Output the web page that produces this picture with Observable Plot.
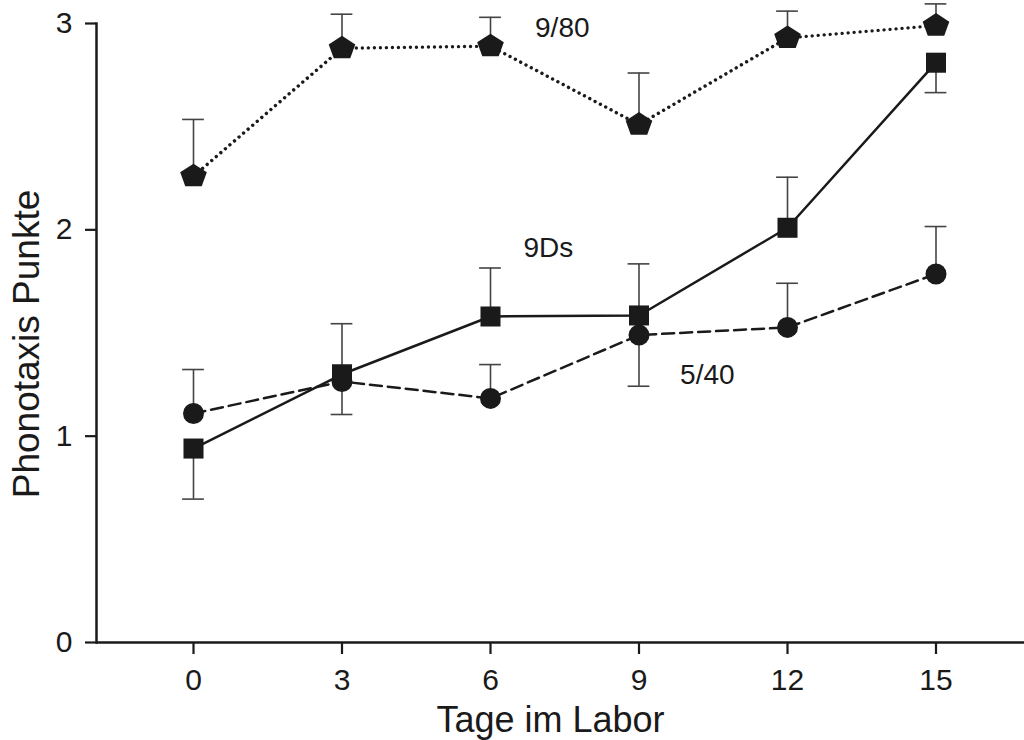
<!DOCTYPE html>
<html>
<head>
<meta charset="utf-8">
<script src="https://cdn.jsdelivr.net/npm/d3@7"></script>
<script src="https://cdn.jsdelivr.net/npm/@observablehq/plot@0.6"></script>
<style>
  html, body { margin: 0; padding: 0; background: #fff; }
  g[aria-label="x-axis tick label"] text, g[aria-label="y-axis tick label"] text { font-size: 30px; }
  g[aria-label="x-axis tick label"], g[aria-label="y-axis tick label"] { font-size: 30px; }
</style>
</head>
<body>
<div id="chart"></div>
<script>
// ---- data ----
const days = [0, 3, 6, 9, 12, 15];
const xTicks = [0, 3, 6, 9, 12, 15];
const yTicks = [0, 1, 2, 3];

const s980 = [2.26, 2.88, 2.89, 2.51, 2.93, 2.99];
const s980Err = [2.535, 3.045, 3.03, 2.76, 3.06, 3.095];

const s9Ds = [0.94, 1.30, 1.58, 1.585, 2.01, 2.81];
const s9DsErr = [0.695, 1.545, 1.815, 1.835, 2.255, 2.665];

const s540 = [1.11, 1.265, 1.183, 1.49, 1.527, 1.786];
const s540Err = [1.323, 1.105, 1.347, 1.242, 1.741, 2.016];

const seriesLabels = ["9/80", "9Ds", "5/40"];
const labelX = [7.45, 7.17, 10.38];
const labelY = [2.976, 1.91, 1.294];

// ---- build tables ----
const mk = (vals, errs) => days.map((d, i) => ({x: d, y: vals[i], e: errs[i]}));
const d980 = mk(s980, s980Err);
const d9Ds = mk(s9Ds, s9DsErr);
const d540 = mk(s540, s540Err);
const labels = seriesLabels.map((t, i) => ({t, x: labelX[i], y: labelY[i]}));

const pentagon = {
  draw(ctx, size) {
    const r = Math.sqrt(size / Math.PI);
    for (let i = 0; i < 5; i++) {
      const a = -Math.PI / 2 + i * 2 * Math.PI / 5;
      const px = r * 1.12 * Math.cos(a), py = r * Math.sin(a);
      if (i === 0) ctx.moveTo(px, py); else ctx.lineTo(px, py);
    }
    ctx.closePath();
  }
};

const ink = "#1a1a1a";
const errColor = "#444";
const capHalf = 0.22;

function errMarks(data) {
  return [
    Plot.ruleX(data, {x: "x", y1: "y", y2: "e", stroke: errColor, strokeWidth: 1.6}),
    Plot.ruleY(data, {y: "e", x1: d => d.x - capHalf, x2: d => d.x + capHalf, stroke: errColor, strokeWidth: 1.6})
  ];
}

const chart = Plot.plot({
  width: 1024,
  height: 740,
  marginLeft: 96,
  marginRight: 0,
  marginTop: 23,
  marginBottom: 98,
  style: {fontFamily: "'Liberation Sans', Arial, sans-serif", background: "#fff", color: ink},
  x: {domain: [0, 15], range: [193, 935.5]},
  y: {domain: [0, 3], range: [642, 23]},
  marks: [
    // error bars
    ...errMarks(d980),
    ...errMarks(d9Ds),
    ...errMarks(d540),
    // lines
    Plot.line(d980, {x: "x", y: "y", stroke: ink, strokeWidth: 3.4, strokeDasharray: "0.01,6", strokeLinecap: "round"}),
    Plot.line(d9Ds, {x: "x", y: "y", stroke: ink, strokeWidth: 2.5}),
    Plot.line(d540, {x: "x", y: "y", stroke: ink, strokeWidth: 2.5, strokeDasharray: "12,6"}),
    // markers
    Plot.dot(d980, {x: "x", y: "y", symbol: pentagon, r: 12.5, fill: ink, stroke: "none"}),
    Plot.dot(d9Ds, {x: "x", y: "y", symbol: "square", r: 11.3, fill: ink, stroke: "none"}),
    Plot.dot(d540, {x: "x", y: "y", symbol: "circle", r: 10.5, fill: ink, stroke: "none"}),
    // series labels
    Plot.text(labels, {x: "x", y: "y", text: "t", fontSize: 28, fill: ink, lineAnchor: "middle"}),
    // axes
    Plot.frame({anchor: "left", stroke: ink, strokeWidth: 2.5}),
    Plot.ruleY([0], {stroke: ink, strokeWidth: 2.5}),
    Plot.axisY({ticks: yTicks, tickFormat: d3.format("d"), tickSize: 11, tickPadding: 13, fontSize: 30, label: null, strokeWidth: 2.2, stroke: ink, fill: ink}),
    Plot.axisX({ticks: xTicks, tickFormat: d3.format("d"), tickSize: 12, tickPadding: 14, fontSize: 30, label: null, strokeWidth: 2.2, stroke: ink, fill: ink}),
    Plot.text(["Phonotaxis Punkte"], {frameAnchor: "left", textAnchor: "middle", dx: -69, dy: 11, rotate: -90, lineAnchor: "middle", fontSize: 37, fill: ink}),
    Plot.text(["Tage im Labor"], {frameAnchor: "bottom", dx: -10, dy: 78, lineAnchor: "middle", fontSize: 36, fill: ink})
  ]
});
document.getElementById("chart").appendChild(chart);
</script>
</body>
</html>
